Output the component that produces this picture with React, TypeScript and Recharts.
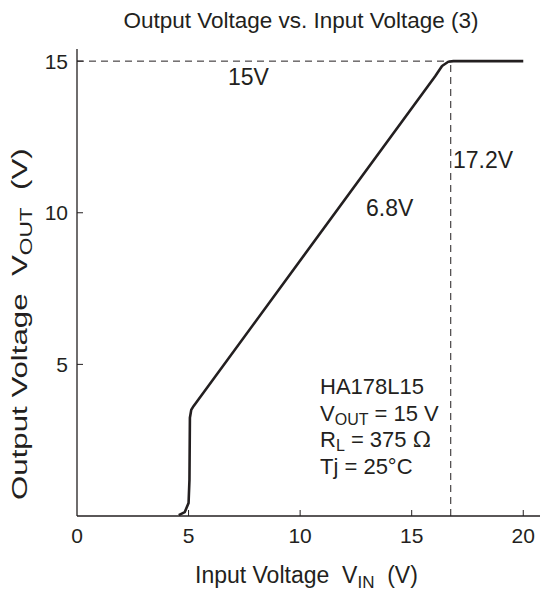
import React from "react"
import { LineChart, Line, XAxis, YAxis, ReferenceLine } from "recharts"

// input voltage (V) and output voltage (V)
const inputV = [4.56, 4.83, 5.0, 5.04, 5.06, 5.12, 5.23, 16.06, 16.36, 16.64, 16.87, 20]
const outputV = [0.03, 0.13, 0.43, 1.19, 3.24, 3.5, 3.63, 14.51, 14.84, 14.98, 15.0, 15.0]

const xTicks = [0, 5, 10, 15, 20]
const yTicks = [5, 10, 15]
const dropoutX = 16.75
const regulatedV = 15

const data = inputV.map((v, i) => ({ vin: v, vout: outputV[i] }))

const INK = "#231f20"
const FONT = "'Liberation Sans', Arial, sans-serif"

function XTick(props: any) {
  const { x, y, payload } = props
  return (
    <g>
      {payload.value !== 0 && <line x1={x} x2={x} y1={y} y2={y - 6} stroke={INK} strokeWidth={1} />}
      <text x={x} y={y + 27} textAnchor="middle" fontSize={21} fill={INK} fontFamily={FONT}>
        {payload.value}
      </text>
    </g>
  )
}

function YTick(props: any) {
  const { x, y, payload } = props
  return (
    <g>
      <line x1={x} x2={x + 6} y1={y} y2={y} stroke={INK} strokeWidth={1} />
      <text x={x - 9} y={y + 7.5} textAnchor="end" fontSize={21} fill={INK} fontFamily={FONT}>
        {payload.value}
      </text>
    </g>
  )
}

export default function App() {
  return (
    <div style={{ position: "absolute", left: 0, top: 0, width: 541, height: 596, background: "#fff" }}>
      <LineChart width={541} height={596} data={data} margin={{ top: 49, right: 1, bottom: 0, left: 76 }}>
        <XAxis
          dataKey="vin"
          type="number"
          domain={[0, 20.75]}
          ticks={xTicks}
          allowDataOverflow
          tickSize={0}
          tickMargin={0}
          tickLine={false}
          tick={<XTick />}
          axisLine={{ stroke: INK, strokeWidth: 1.3 }}
          height={80}
        />
        <YAxis
          type="number"
          domain={[0, 15.4]}
          ticks={yTicks}
          allowDataOverflow
          tickSize={0}
          tickMargin={0}
          tickLine={false}
          tick={<YTick />}
          axisLine={{ stroke: INK, strokeWidth: 1.3 }}
          width={1}
        />
        <ReferenceLine
          segment={[{ x: 0, y: regulatedV }, { x: dropoutX, y: regulatedV }]}
          stroke={INK}
          strokeWidth={1}
          strokeDasharray="7 5"
        />
        <ReferenceLine
          segment={[{ x: dropoutX, y: 0 }, { x: dropoutX, y: regulatedV }]}
          stroke={INK}
          strokeWidth={1}
          strokeDasharray="7 5"
        />
        <Line
          dataKey="vout"
          type="linear"
          stroke={INK}
          strokeWidth={2.6}
          strokeLinejoin="round"
          dot={false}
          isAnimationActive={false}
        />
      </LineChart>
      <svg
        width={541}
        height={596}
        style={{ position: "absolute", left: 0, top: 0, pointerEvents: "none" }}
        fontFamily={FONT}
        fill={INK}
      >
        <text x={301} y={28} textAnchor="middle" fontSize={22.5}>
          Output Voltage vs. Input Voltage (3)
        </text>
        <text x={228} y={85} fontSize={23}>15V</text>
        <text x={366} y={216} fontSize={23}>6.8V</text>
        <text x={453} y={168} fontSize={23}>17.2V</text>
        <text x={320} y={394} fontSize={22}>HA178L15</text>
        <text x={320} y={421} fontSize={22}>
          V<tspan fontSize={16} dy={4}>OUT</tspan>
          <tspan dy={-4}> = 15 V</tspan>
        </text>
        <text x={320} y={447} fontSize={22}>
          R<tspan fontSize={16} dy={4}>L</tspan>
          <tspan dy={-4}> = 375 </tspan>
          <tspan fontFamily="'DejaVu Serif', serif">Ω</tspan>
        </text>
        <text x={320} y={474} fontSize={22}>Tj = 25°C</text>
        <text x={195} y={583} fontSize={23} style={{ whiteSpace: "pre" }}>
          {"Input Voltage  V"}<tspan fontSize={17} dy={5}>IN</tspan>
          <tspan dy={-5}>{"  (V)"}</tspan>
        </text>
        <text
          x={0}
          y={0}
          fontSize={22}
          transform="translate(27 500) rotate(-90) scale(1.42 1)"
          style={{ whiteSpace: "pre" }}
        >
          {"Output Voltage  V"}<tspan fontSize={16} dy={5}>OUT</tspan>
          <tspan dy={-5}>{"  (V)"}</tspan>
        </text>
      </svg>
    </div>
  )
}
